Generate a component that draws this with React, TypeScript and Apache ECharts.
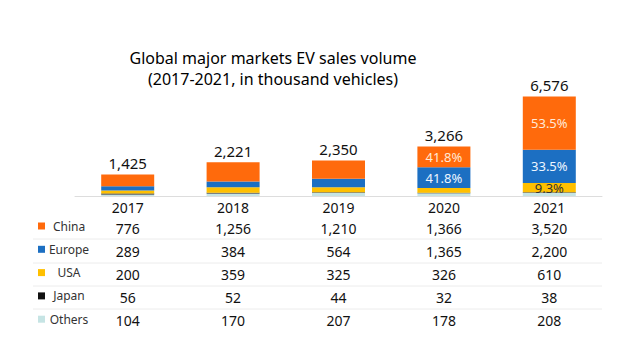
import React, { useEffect, useRef } from "react";
import * as echarts from "echarts";

const years = ["2017", "2018", "2019", "2020", "2021"];
const china = [776, 1256, 1210, 1366, 3520];
const europe = [289, 384, 564, 1365, 2200];
const usa = [200, 359, 325, 326, 610];
const japan = [56, 52, 44, 32, 38];
const others = [104, 170, 207, 178, 208];
const totals = [1425, 2221, 2350, 3266, 6576];
// which bars show a share-of-total label, per series
const chinaPctShown = [false, false, false, true, true];
const europePctShown = [false, false, false, true, true];
const usaPctShown = [false, false, false, false, true];

const titleLines = ["Global major markets EV sales volume", "(2017-2021, in thousand vehicles)"];

const COLORS = {
  China: "#FF6A0C",
  Europe: "#1C6FC2",
  USA: "#FFC000",
  Japan: "#111111",
  Others: "#C6E4E4",
};

const FONT = "Noto Sans";
const fmt = (v: number) => v.toLocaleString("en-US");

export default function App() {
  const ref = useRef<HTMLDivElement>(null);
  useEffect(() => {
    if (!ref.current) return;
    const chart = echarts.init(ref.current, null, { renderer: "svg" });
    const pctLabel = (shown: boolean[], color: string) => ({
      show: true,
      position: "inside",
      color,
      fontFamily: FONT,
      fontSize: 13,
      formatter: (p: any) =>
        shown[p.dataIndex] ? ((p.value / totals[p.dataIndex]) * 100).toFixed(1) + "%" : "",
    });
    const barBase = { type: "bar", stack: "s", barWidth: 53 };
    const sepY = [239, 263, 286, 309];
    chart.setOption({
      animation: false,
      backgroundColor: "#ffffff",
      textStyle: { fontFamily: FONT },
      grid: { left: 75, right: 38, top: 90, bottom: 164 },
      legend: {
        orient: "vertical",
        left: 38,
        top: 219,
        padding: 0,
        itemGap: 9.3,
        itemWidth: 7,
        itemHeight: 7,
        icon: "rect",
        selectedMode: false,
        data: ["China", "Europe", "USA", "Japan", "Others"],
        formatter: "{n|{name}}",
        textStyle: {
          fontFamily: FONT,
          fontSize: 12,
          color: "#333",
          lineHeight: 14,
          rich: { n: { width: 38, align: "center", fontSize: 12, color: "#333", fontFamily: FONT } },
        },
      },
      xAxis: {
        type: "category",
        data: years,
        axisLine: { lineStyle: { color: "#dddddd" } },
        axisTick: { show: false },
        axisLabel: {
          margin: 1,
          formatter: (v: string, i: number) =>
            [
              `{y|${v}}`,
              `{v|${fmt(china[i])}}`,
              `{v|${fmt(europe[i])}}`,
              `{v|${fmt(usa[i])}}`,
              `{v|${fmt(japan[i])}}`,
              `{v|${fmt(others[i])}}`,
            ].join("\n"),
          rich: {
            y: { fontFamily: FONT, fontSize: 14, lineHeight: 20, color: "#111" },
            v: { fontFamily: FONT, fontSize: 14, lineHeight: 23, color: "#111" },
          },
        },
      },
      yAxis: { type: "value", min: 0, max: 7000, show: false, splitLine: { show: false } },
      graphic: [
        ...titleLines.map((t, i) => ({
          type: "text",
          x: 273,
          y: 58 + i * 21,
          style: {
            text: t,
            font: `16px "${FONT}"`,
            textAlign: "center",
            textVerticalAlign: "middle",
            fill: "#000",
          },
        })),
        ...sepY.map((y) => ({
          type: "line",
          shape: { x1: 33, y1: y, x2: 602, y2: y },
          style: { stroke: "#ececec", lineWidth: 1 },
        })),
      ],
      series: [
        { ...barBase, name: "Others", data: others, itemStyle: { color: COLORS.Others } },
        { ...barBase, name: "Japan", data: japan, itemStyle: { color: COLORS.Japan } },
        {
          ...barBase,
          name: "USA",
          data: usa,
          itemStyle: { color: COLORS.USA },
          label: pctLabel(usaPctShown, "#333"),
        },
        {
          ...barBase,
          name: "Europe",
          data: europe,
          itemStyle: { color: COLORS.Europe },
          label: pctLabel(europePctShown, "#eef6ff"),
        },
        {
          ...barBase,
          name: "China",
          data: china,
          itemStyle: { color: COLORS.China },
          label: pctLabel(chinaPctShown, "#ffe9d6"),
        },
        {
          ...barBase,
          name: "Total",
          data: totals.map(() => 0),
          itemStyle: { color: "transparent" },
          label: {
            show: true,
            position: "top",
            distance: 4,
            color: "#111",
            fontFamily: FONT,
            fontSize: 15,
            formatter: (p: any) => fmt(totals[p.dataIndex]),
          },
        },
      ],
    });
    return () => chart.dispose();
  }, []);
  return (
    <div
      ref={ref}
      style={{ position: "fixed", left: 0, top: 0, width: 640, height: 360, background: "#fff" }}
    />
  );
}
